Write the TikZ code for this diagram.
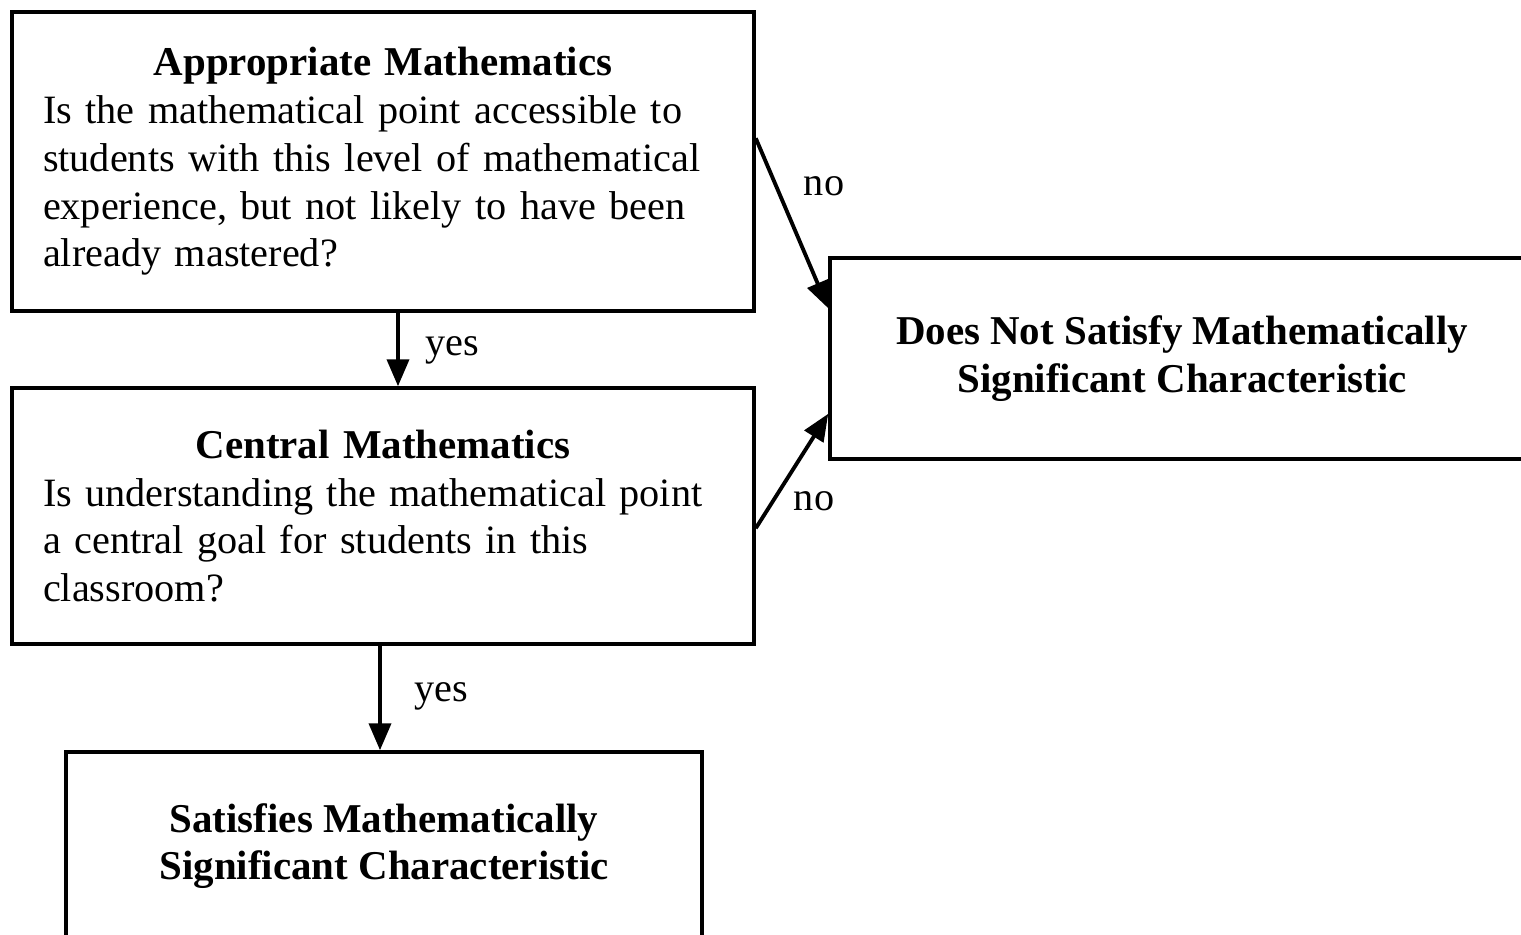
\documentclass[tikz,border=0pt]{standalone}
\usepackage{fontspec}
\setmainfont{Liberation Serif}
\usetikzlibrary{arrows.meta,positioning}

\tikzset{
  txt/.style={font=\fontsize{11.45}{13.6}\selectfont},
  qbox/.style={txt, draw, line width=1pt, minimum width=7.42cm,
    text width=6.8cm, inner xsep=0.31cm, align=left},
  rbox/.style={draw, line width=1pt, font=\fontsize{11.65}{13.6}\selectfont\bfseries,
    align=center},
  flow/.style={-{Triangle[length=0.27cm,width=0.22cm]}, line width=1.1pt},
  lbl/.style={txt, inner sep=0pt}
}

\begin{document}
\begin{tikzpicture}
  \useasboundingbox (0,0) rectangle (15.21,-9.34);
  \node[qbox, minimum height=2.99cm] (appr) at (3.83,-1.615)
    {\makebox[\linewidth]{\fontsize{11.65}{13.6}\selectfont\bfseries Appropriate Mathematics}\\
     Is the mathematical point accessible to\\
     students with this level of mathematical\\
     experience, but not likely to have been\\
     already mastered?};
  \node[qbox, minimum height=2.56cm] (cent) at (3.83,-5.16)
    {\makebox[\linewidth]{\fontsize{11.65}{13.6}\selectfont\bfseries Central Mathematics}\\
     Is understanding the mathematical point\\
     a central goal for students in this\\
     classroom?};
  \node[rbox, minimum width=6.36cm, minimum height=1.88cm] (sat) at (3.84,-8.46)
    {Satisfies Mathematically\\ Significant Characteristic};
  \node[rbox, minimum width=7.04cm, minimum height=2.01cm] (dns) at (11.82,-3.585)
    {Does Not Satisfy Mathematically\\ Significant Characteristic};
  % labels
  \node[lbl] (yes1) at (4.52,-3.50) {yes};
  \node[lbl] (yes2) at (4.41,-6.96) {yes};
  \node[lbl] (no1) at (8.24,-1.86) {no};
  \node[lbl] (no2) at (8.14,-5.01) {no};
  % arrows
  \draw[flow] ([xshift=0.15cm]appr.south) -- ([xshift=0.15cm]appr.south |- cent.north);
  \draw[flow] ([xshift=-0.03cm]cent.south) -- ([xshift=-0.03cm]cent.south |- sat.north);
  \draw[flow] ([yshift=-1.28cm]appr.north east) -- ([yshift=-0.52cm]dns.north west);
  \draw[flow] ([yshift=-1.42cm]cent.north east) -- ([yshift=0.47cm]dns.south west);
\end{tikzpicture}
\end{document}
